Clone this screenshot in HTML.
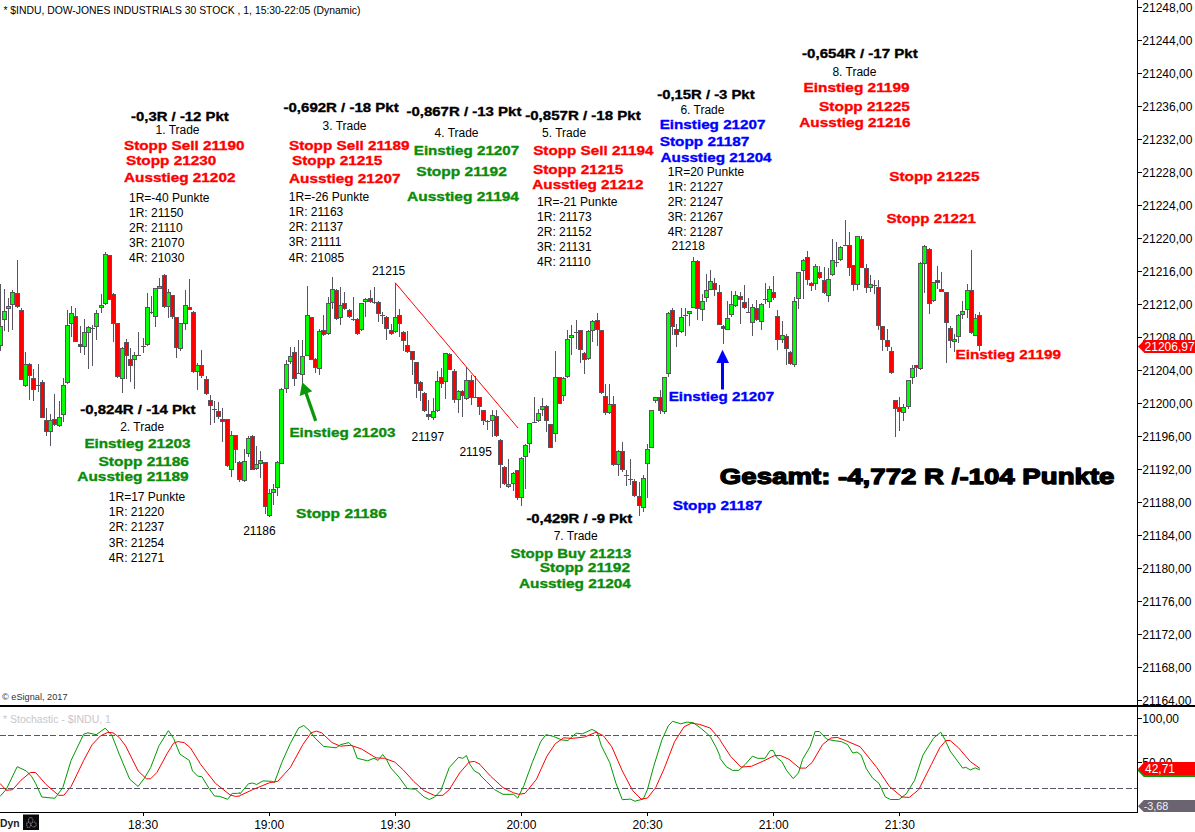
<!DOCTYPE html><html><head><meta charset="utf-8"><title>$INDU Chart</title>
<style>html,body{margin:0;padding:0;background:#fff;}svg{display:block}text{font-family:"Liberation Sans", Arial, sans-serif;}.n{font-size:12px;fill:#000}.b{font-size:13.4px;font-weight:bold;stroke-width:.35px;stroke-linejoin:round}.k{fill:#000;stroke:#000}.r{fill:#f00;stroke:#f00}.g{fill:#0a8c0a;stroke:#0a8c0a}.u{fill:#00f;stroke:#00f}</style></head><body>
<svg width="1195" height="832" viewBox="0 0 1195 832">
<rect width="1195" height="832" fill="#fff"/>
<g shape-rendering="crispEdges">
<rect x="0" y="284" width="1" height="67" fill="#585560"/>
<rect x="-2" y="326" width="5" height="20" fill="#585560"/>
<rect x="-1" y="327" width="3" height="18" fill="#00ff00"/>
<rect x="4" y="289" width="1" height="42" fill="#585560"/>
<rect x="2" y="311" width="5" height="9" fill="#585560"/>
<rect x="3" y="312" width="3" height="7" fill="#00ff00"/>
<rect x="8" y="298" width="1" height="34" fill="#585560"/>
<rect x="6" y="306" width="5" height="3" fill="#585560"/>
<rect x="7" y="307" width="3" height="1" fill="#00ff00"/>
<rect x="12" y="290" width="1" height="40" fill="#585560"/>
<rect x="10" y="292" width="5" height="13" fill="#585560"/>
<rect x="11" y="293" width="3" height="11" fill="#00ff00"/>
<rect x="17" y="260" width="1" height="48" fill="#585560"/>
<rect x="15" y="293" width="5" height="14" fill="#585560"/>
<rect x="16" y="294" width="3" height="12" fill="#ff0000"/>
<rect x="21" y="308" width="1" height="72" fill="#585560"/>
<rect x="19" y="310" width="5" height="70" fill="#585560"/>
<rect x="20" y="311" width="3" height="68" fill="#ff0000"/>
<rect x="25" y="352" width="1" height="35" fill="#585560"/>
<rect x="23" y="364" width="5" height="22" fill="#585560"/>
<rect x="24" y="365" width="3" height="20" fill="#00ff00"/>
<rect x="29" y="363" width="1" height="37" fill="#585560"/>
<rect x="27" y="364" width="5" height="12" fill="#585560"/>
<rect x="28" y="365" width="3" height="10" fill="#ff0000"/>
<rect x="33" y="369" width="1" height="32" fill="#585560"/>
<rect x="31" y="378" width="5" height="12" fill="#585560"/>
<rect x="32" y="379" width="3" height="10" fill="#ff0000"/>
<rect x="38" y="364" width="1" height="28" fill="#585560"/>
<rect x="36" y="385" width="5" height="1" fill="#585560"/>
<rect x="42" y="380" width="1" height="38" fill="#585560"/>
<rect x="40" y="382" width="5" height="36" fill="#585560"/>
<rect x="41" y="383" width="3" height="34" fill="#ff0000"/>
<rect x="46" y="408" width="1" height="28" fill="#585560"/>
<rect x="44" y="420" width="5" height="12" fill="#585560"/>
<rect x="45" y="421" width="3" height="10" fill="#ff0000"/>
<rect x="50" y="414" width="1" height="32" fill="#585560"/>
<rect x="48" y="420" width="5" height="12" fill="#585560"/>
<rect x="49" y="421" width="3" height="10" fill="#00ff00"/>
<rect x="54" y="394" width="1" height="32" fill="#585560"/>
<rect x="52" y="419" width="5" height="6" fill="#585560"/>
<rect x="53" y="420" width="3" height="4" fill="#ff0000"/>
<rect x="59" y="401" width="1" height="26" fill="#585560"/>
<rect x="57" y="417" width="5" height="9" fill="#585560"/>
<rect x="58" y="418" width="3" height="7" fill="#00ff00"/>
<rect x="63" y="378" width="1" height="44" fill="#585560"/>
<rect x="61" y="385" width="5" height="30" fill="#585560"/>
<rect x="62" y="386" width="3" height="28" fill="#00ff00"/>
<rect x="67" y="310" width="1" height="74" fill="#585560"/>
<rect x="65" y="325" width="5" height="58" fill="#585560"/>
<rect x="66" y="326" width="3" height="56" fill="#00ff00"/>
<rect x="71" y="306" width="1" height="31" fill="#585560"/>
<rect x="69" y="313" width="5" height="11" fill="#585560"/>
<rect x="70" y="314" width="3" height="9" fill="#00ff00"/>
<rect x="75" y="308" width="1" height="34" fill="#585560"/>
<rect x="73" y="316" width="5" height="26" fill="#585560"/>
<rect x="74" y="317" width="3" height="24" fill="#ff0000"/>
<rect x="80" y="326" width="1" height="27" fill="#585560"/>
<rect x="78" y="344" width="5" height="3" fill="#585560"/>
<rect x="79" y="345" width="3" height="1" fill="#ff0000"/>
<rect x="84" y="319" width="1" height="36" fill="#585560"/>
<rect x="82" y="332" width="5" height="15" fill="#585560"/>
<rect x="83" y="333" width="3" height="13" fill="#00ff00"/>
<rect x="88" y="326" width="1" height="43" fill="#585560"/>
<rect x="86" y="327" width="5" height="6" fill="#585560"/>
<rect x="87" y="328" width="3" height="4" fill="#00ff00"/>
<rect x="92" y="325" width="1" height="41" fill="#585560"/>
<rect x="90" y="328" width="5" height="1" fill="#585560"/>
<rect x="96" y="310" width="1" height="30" fill="#585560"/>
<rect x="94" y="313" width="5" height="14" fill="#585560"/>
<rect x="95" y="314" width="3" height="12" fill="#00ff00"/>
<rect x="101" y="294" width="1" height="19" fill="#585560"/>
<rect x="99" y="305" width="5" height="3" fill="#585560"/>
<rect x="100" y="306" width="3" height="1" fill="#00ff00"/>
<rect x="105" y="252" width="1" height="53" fill="#585560"/>
<rect x="103" y="254" width="5" height="50" fill="#585560"/>
<rect x="104" y="255" width="3" height="48" fill="#00ff00"/>
<rect x="109" y="255" width="1" height="45" fill="#585560"/>
<rect x="107" y="255" width="5" height="45" fill="#585560"/>
<rect x="108" y="256" width="3" height="43" fill="#ff0000"/>
<rect x="113" y="293" width="1" height="49" fill="#585560"/>
<rect x="111" y="294" width="5" height="30" fill="#585560"/>
<rect x="112" y="295" width="3" height="28" fill="#ff0000"/>
<rect x="117" y="323" width="1" height="55" fill="#585560"/>
<rect x="115" y="323" width="5" height="54" fill="#585560"/>
<rect x="116" y="324" width="3" height="52" fill="#ff0000"/>
<rect x="122" y="347" width="1" height="46" fill="#585560"/>
<rect x="120" y="348" width="5" height="31" fill="#585560"/>
<rect x="121" y="349" width="3" height="29" fill="#00ff00"/>
<rect x="126" y="339" width="1" height="40" fill="#585560"/>
<rect x="124" y="342" width="5" height="14" fill="#585560"/>
<rect x="125" y="343" width="3" height="12" fill="#ff0000"/>
<rect x="130" y="348" width="1" height="34" fill="#585560"/>
<rect x="128" y="359" width="5" height="7" fill="#585560"/>
<rect x="129" y="360" width="3" height="5" fill="#ff0000"/>
<rect x="134" y="352" width="1" height="37" fill="#585560"/>
<rect x="132" y="355" width="5" height="5" fill="#585560"/>
<rect x="133" y="356" width="3" height="3" fill="#00ff00"/>
<rect x="138" y="332" width="1" height="24" fill="#585560"/>
<rect x="136" y="355" width="5" height="1" fill="#585560"/>
<rect x="143" y="338" width="1" height="15" fill="#585560"/>
<rect x="141" y="346" width="5" height="1" fill="#585560"/>
<rect x="147" y="293" width="1" height="53" fill="#585560"/>
<rect x="145" y="307" width="5" height="38" fill="#585560"/>
<rect x="146" y="308" width="3" height="36" fill="#00ff00"/>
<rect x="151" y="296" width="1" height="18" fill="#585560"/>
<rect x="149" y="312" width="5" height="1" fill="#585560"/>
<rect x="155" y="288" width="1" height="39" fill="#585560"/>
<rect x="153" y="288" width="5" height="29" fill="#585560"/>
<rect x="154" y="289" width="3" height="27" fill="#00ff00"/>
<rect x="159" y="278" width="1" height="11" fill="#585560"/>
<rect x="157" y="286" width="5" height="3" fill="#585560"/>
<rect x="158" y="287" width="3" height="1" fill="#00ff00"/>
<rect x="164" y="274" width="1" height="34" fill="#585560"/>
<rect x="162" y="275" width="5" height="32" fill="#585560"/>
<rect x="163" y="276" width="3" height="30" fill="#ff0000"/>
<rect x="168" y="289" width="1" height="29" fill="#585560"/>
<rect x="166" y="292" width="5" height="15" fill="#585560"/>
<rect x="167" y="293" width="3" height="13" fill="#00ff00"/>
<rect x="172" y="295" width="1" height="24" fill="#585560"/>
<rect x="170" y="295" width="5" height="22" fill="#585560"/>
<rect x="171" y="296" width="3" height="20" fill="#ff0000"/>
<rect x="176" y="317" width="1" height="41" fill="#585560"/>
<rect x="174" y="317" width="5" height="31" fill="#585560"/>
<rect x="175" y="318" width="3" height="29" fill="#ff0000"/>
<rect x="180" y="323" width="1" height="28" fill="#585560"/>
<rect x="178" y="323" width="5" height="26" fill="#585560"/>
<rect x="179" y="324" width="3" height="24" fill="#00ff00"/>
<rect x="185" y="290" width="1" height="40" fill="#585560"/>
<rect x="183" y="305" width="5" height="19" fill="#585560"/>
<rect x="184" y="306" width="3" height="17" fill="#00ff00"/>
<rect x="189" y="279" width="1" height="31" fill="#585560"/>
<rect x="187" y="307" width="5" height="3" fill="#585560"/>
<rect x="188" y="308" width="3" height="1" fill="#ff0000"/>
<rect x="193" y="311" width="1" height="62" fill="#585560"/>
<rect x="191" y="312" width="5" height="60" fill="#585560"/>
<rect x="192" y="313" width="3" height="58" fill="#ff0000"/>
<rect x="197" y="363" width="1" height="27" fill="#585560"/>
<rect x="195" y="365" width="5" height="7" fill="#585560"/>
<rect x="196" y="366" width="3" height="5" fill="#00ff00"/>
<rect x="201" y="350" width="1" height="28" fill="#585560"/>
<rect x="199" y="365" width="5" height="11" fill="#585560"/>
<rect x="200" y="366" width="3" height="9" fill="#ff0000"/>
<rect x="206" y="376" width="1" height="19" fill="#585560"/>
<rect x="204" y="379" width="5" height="15" fill="#585560"/>
<rect x="205" y="380" width="3" height="13" fill="#ff0000"/>
<rect x="210" y="395" width="1" height="30" fill="#585560"/>
<rect x="208" y="400" width="5" height="6" fill="#585560"/>
<rect x="209" y="401" width="3" height="4" fill="#ff0000"/>
<rect x="214" y="401" width="1" height="22" fill="#585560"/>
<rect x="212" y="409" width="5" height="1" fill="#585560"/>
<rect x="218" y="402" width="1" height="17" fill="#585560"/>
<rect x="216" y="411" width="5" height="6" fill="#585560"/>
<rect x="217" y="412" width="3" height="4" fill="#ff0000"/>
<rect x="222" y="408" width="1" height="34" fill="#585560"/>
<rect x="220" y="419" width="5" height="3" fill="#585560"/>
<rect x="221" y="420" width="3" height="1" fill="#ff0000"/>
<rect x="227" y="419" width="1" height="48" fill="#585560"/>
<rect x="225" y="419" width="5" height="47" fill="#585560"/>
<rect x="226" y="420" width="3" height="45" fill="#ff0000"/>
<rect x="231" y="431" width="1" height="46" fill="#585560"/>
<rect x="229" y="435" width="5" height="35" fill="#585560"/>
<rect x="230" y="436" width="3" height="33" fill="#00ff00"/>
<rect x="235" y="435" width="1" height="28" fill="#585560"/>
<rect x="233" y="435" width="5" height="15" fill="#585560"/>
<rect x="234" y="436" width="3" height="13" fill="#ff0000"/>
<rect x="239" y="461" width="1" height="21" fill="#585560"/>
<rect x="237" y="462" width="5" height="18" fill="#585560"/>
<rect x="238" y="463" width="3" height="16" fill="#ff0000"/>
<rect x="244" y="449" width="1" height="33" fill="#585560"/>
<rect x="242" y="461" width="5" height="20" fill="#585560"/>
<rect x="243" y="462" width="3" height="18" fill="#00ff00"/>
<rect x="248" y="436" width="1" height="21" fill="#585560"/>
<rect x="246" y="438" width="5" height="16" fill="#585560"/>
<rect x="247" y="439" width="3" height="14" fill="#00ff00"/>
<rect x="252" y="435" width="1" height="35" fill="#585560"/>
<rect x="250" y="436" width="5" height="34" fill="#585560"/>
<rect x="251" y="437" width="3" height="32" fill="#ff0000"/>
<rect x="256" y="446" width="1" height="24" fill="#585560"/>
<rect x="254" y="464" width="5" height="5" fill="#585560"/>
<rect x="255" y="465" width="3" height="3" fill="#00ff00"/>
<rect x="260" y="451" width="1" height="27" fill="#585560"/>
<rect x="258" y="460" width="5" height="4" fill="#585560"/>
<rect x="259" y="461" width="3" height="2" fill="#00ff00"/>
<rect x="265" y="462" width="1" height="52" fill="#585560"/>
<rect x="263" y="462" width="5" height="45" fill="#585560"/>
<rect x="264" y="463" width="3" height="43" fill="#ff0000"/>
<rect x="269" y="489" width="1" height="28" fill="#585560"/>
<rect x="267" y="493" width="5" height="23" fill="#585560"/>
<rect x="268" y="494" width="3" height="21" fill="#00ff00"/>
<rect x="273" y="484" width="1" height="21" fill="#585560"/>
<rect x="271" y="489" width="5" height="4" fill="#585560"/>
<rect x="272" y="490" width="3" height="2" fill="#00ff00"/>
<rect x="277" y="461" width="1" height="35" fill="#585560"/>
<rect x="275" y="462" width="5" height="26" fill="#585560"/>
<rect x="276" y="463" width="3" height="24" fill="#00ff00"/>
<rect x="281" y="388" width="1" height="76" fill="#585560"/>
<rect x="279" y="389" width="5" height="75" fill="#585560"/>
<rect x="280" y="390" width="3" height="73" fill="#00ff00"/>
<rect x="286" y="360" width="1" height="33" fill="#585560"/>
<rect x="284" y="364" width="5" height="25" fill="#585560"/>
<rect x="285" y="365" width="3" height="23" fill="#00ff00"/>
<rect x="290" y="347" width="1" height="17" fill="#585560"/>
<rect x="288" y="356" width="5" height="6" fill="#585560"/>
<rect x="289" y="357" width="3" height="4" fill="#00ff00"/>
<rect x="294" y="347" width="1" height="39" fill="#585560"/>
<rect x="292" y="352" width="5" height="27" fill="#585560"/>
<rect x="293" y="353" width="3" height="25" fill="#ff0000"/>
<rect x="298" y="340" width="1" height="34" fill="#585560"/>
<rect x="296" y="373" width="5" height="1" fill="#585560"/>
<rect x="302" y="340" width="1" height="45" fill="#585560"/>
<rect x="300" y="356" width="5" height="19" fill="#585560"/>
<rect x="301" y="357" width="3" height="17" fill="#00ff00"/>
<rect x="307" y="286" width="1" height="70" fill="#585560"/>
<rect x="305" y="315" width="5" height="41" fill="#585560"/>
<rect x="306" y="316" width="3" height="39" fill="#00ff00"/>
<rect x="311" y="317" width="1" height="43" fill="#585560"/>
<rect x="309" y="317" width="5" height="43" fill="#585560"/>
<rect x="310" y="318" width="3" height="41" fill="#ff0000"/>
<rect x="315" y="358" width="1" height="15" fill="#585560"/>
<rect x="313" y="359" width="5" height="9" fill="#585560"/>
<rect x="314" y="360" width="3" height="7" fill="#ff0000"/>
<rect x="319" y="329" width="1" height="46" fill="#585560"/>
<rect x="317" y="331" width="5" height="38" fill="#585560"/>
<rect x="318" y="332" width="3" height="36" fill="#00ff00"/>
<rect x="323" y="315" width="1" height="21" fill="#585560"/>
<rect x="321" y="330" width="5" height="5" fill="#585560"/>
<rect x="322" y="331" width="3" height="3" fill="#ff0000"/>
<rect x="328" y="297" width="1" height="38" fill="#585560"/>
<rect x="326" y="303" width="5" height="31" fill="#585560"/>
<rect x="327" y="304" width="3" height="29" fill="#00ff00"/>
<rect x="332" y="277" width="1" height="32" fill="#585560"/>
<rect x="330" y="289" width="5" height="14" fill="#585560"/>
<rect x="331" y="290" width="3" height="12" fill="#00ff00"/>
<rect x="336" y="289" width="1" height="31" fill="#585560"/>
<rect x="334" y="290" width="5" height="29" fill="#585560"/>
<rect x="335" y="291" width="3" height="27" fill="#ff0000"/>
<rect x="340" y="287" width="1" height="38" fill="#585560"/>
<rect x="338" y="305" width="5" height="13" fill="#585560"/>
<rect x="339" y="306" width="3" height="11" fill="#00ff00"/>
<rect x="344" y="292" width="1" height="18" fill="#585560"/>
<rect x="342" y="303" width="5" height="6" fill="#585560"/>
<rect x="343" y="304" width="3" height="4" fill="#ff0000"/>
<rect x="349" y="309" width="1" height="9" fill="#585560"/>
<rect x="347" y="310" width="5" height="7" fill="#585560"/>
<rect x="348" y="311" width="3" height="5" fill="#ff0000"/>
<rect x="353" y="297" width="1" height="24" fill="#585560"/>
<rect x="351" y="319" width="5" height="1" fill="#585560"/>
<rect x="357" y="318" width="1" height="17" fill="#585560"/>
<rect x="355" y="319" width="5" height="15" fill="#585560"/>
<rect x="356" y="320" width="3" height="13" fill="#ff0000"/>
<rect x="361" y="303" width="1" height="28" fill="#585560"/>
<rect x="359" y="303" width="5" height="27" fill="#585560"/>
<rect x="360" y="304" width="3" height="25" fill="#00ff00"/>
<rect x="365" y="298" width="1" height="19" fill="#585560"/>
<rect x="363" y="299" width="5" height="3" fill="#585560"/>
<rect x="364" y="300" width="3" height="1" fill="#00ff00"/>
<rect x="370" y="290" width="1" height="13" fill="#585560"/>
<rect x="368" y="298" width="5" height="4" fill="#585560"/>
<rect x="369" y="299" width="3" height="2" fill="#ff0000"/>
<rect x="374" y="287" width="1" height="17" fill="#585560"/>
<rect x="372" y="302" width="5" height="1" fill="#585560"/>
<rect x="378" y="301" width="1" height="21" fill="#585560"/>
<rect x="376" y="302" width="5" height="12" fill="#585560"/>
<rect x="377" y="303" width="3" height="10" fill="#ff0000"/>
<rect x="382" y="312" width="1" height="12" fill="#585560"/>
<rect x="380" y="315" width="5" height="1" fill="#585560"/>
<rect x="386" y="316" width="1" height="24" fill="#585560"/>
<rect x="384" y="317" width="5" height="12" fill="#585560"/>
<rect x="385" y="318" width="3" height="10" fill="#ff0000"/>
<rect x="391" y="324" width="1" height="11" fill="#585560"/>
<rect x="389" y="330" width="5" height="4" fill="#585560"/>
<rect x="390" y="331" width="3" height="2" fill="#ff0000"/>
<rect x="395" y="283" width="1" height="50" fill="#585560"/>
<rect x="393" y="317" width="5" height="15" fill="#585560"/>
<rect x="394" y="318" width="3" height="13" fill="#00ff00"/>
<rect x="399" y="309" width="1" height="28" fill="#585560"/>
<rect x="397" y="315" width="5" height="9" fill="#585560"/>
<rect x="398" y="316" width="3" height="7" fill="#ff0000"/>
<rect x="403" y="331" width="1" height="20" fill="#585560"/>
<rect x="401" y="332" width="5" height="9" fill="#585560"/>
<rect x="402" y="333" width="3" height="7" fill="#ff0000"/>
<rect x="407" y="331" width="1" height="22" fill="#585560"/>
<rect x="405" y="345" width="5" height="7" fill="#585560"/>
<rect x="406" y="346" width="3" height="5" fill="#ff0000"/>
<rect x="412" y="351" width="1" height="24" fill="#585560"/>
<rect x="410" y="351" width="5" height="9" fill="#585560"/>
<rect x="411" y="352" width="3" height="7" fill="#ff0000"/>
<rect x="416" y="362" width="1" height="36" fill="#585560"/>
<rect x="414" y="362" width="5" height="22" fill="#585560"/>
<rect x="415" y="363" width="3" height="20" fill="#ff0000"/>
<rect x="420" y="381" width="1" height="20" fill="#585560"/>
<rect x="418" y="382" width="5" height="9" fill="#585560"/>
<rect x="419" y="383" width="3" height="7" fill="#ff0000"/>
<rect x="424" y="392" width="1" height="20" fill="#585560"/>
<rect x="422" y="393" width="5" height="18" fill="#585560"/>
<rect x="423" y="394" width="3" height="16" fill="#ff0000"/>
<rect x="428" y="400" width="1" height="20" fill="#585560"/>
<rect x="426" y="414" width="5" height="3" fill="#585560"/>
<rect x="427" y="415" width="3" height="1" fill="#ff0000"/>
<rect x="433" y="398" width="1" height="22" fill="#585560"/>
<rect x="431" y="411" width="5" height="7" fill="#585560"/>
<rect x="432" y="412" width="3" height="5" fill="#00ff00"/>
<rect x="437" y="371" width="1" height="41" fill="#585560"/>
<rect x="435" y="381" width="5" height="30" fill="#585560"/>
<rect x="436" y="382" width="3" height="28" fill="#00ff00"/>
<rect x="441" y="368" width="1" height="20" fill="#585560"/>
<rect x="439" y="377" width="5" height="7" fill="#585560"/>
<rect x="440" y="378" width="3" height="5" fill="#ff0000"/>
<rect x="445" y="353" width="1" height="46" fill="#585560"/>
<rect x="443" y="353" width="5" height="29" fill="#585560"/>
<rect x="444" y="354" width="3" height="27" fill="#00ff00"/>
<rect x="449" y="353" width="1" height="17" fill="#585560"/>
<rect x="447" y="354" width="5" height="16" fill="#585560"/>
<rect x="448" y="355" width="3" height="14" fill="#ff0000"/>
<rect x="454" y="369" width="1" height="34" fill="#585560"/>
<rect x="452" y="371" width="5" height="29" fill="#585560"/>
<rect x="453" y="372" width="3" height="27" fill="#ff0000"/>
<rect x="458" y="390" width="1" height="23" fill="#585560"/>
<rect x="456" y="391" width="5" height="9" fill="#585560"/>
<rect x="457" y="392" width="3" height="7" fill="#00ff00"/>
<rect x="462" y="390" width="1" height="27" fill="#585560"/>
<rect x="460" y="391" width="5" height="5" fill="#585560"/>
<rect x="461" y="392" width="3" height="3" fill="#ff0000"/>
<rect x="466" y="367" width="1" height="33" fill="#585560"/>
<rect x="464" y="380" width="5" height="19" fill="#585560"/>
<rect x="465" y="381" width="3" height="17" fill="#00ff00"/>
<rect x="471" y="375" width="1" height="30" fill="#585560"/>
<rect x="469" y="380" width="5" height="18" fill="#585560"/>
<rect x="470" y="381" width="3" height="16" fill="#ff0000"/>
<rect x="475" y="376" width="1" height="22" fill="#585560"/>
<rect x="473" y="397" width="5" height="1" fill="#585560"/>
<rect x="479" y="397" width="1" height="18" fill="#585560"/>
<rect x="477" y="397" width="5" height="10" fill="#585560"/>
<rect x="478" y="398" width="3" height="8" fill="#ff0000"/>
<rect x="483" y="410" width="1" height="15" fill="#585560"/>
<rect x="481" y="410" width="5" height="11" fill="#585560"/>
<rect x="482" y="411" width="3" height="9" fill="#ff0000"/>
<rect x="487" y="420" width="1" height="10" fill="#585560"/>
<rect x="485" y="421" width="5" height="1" fill="#585560"/>
<rect x="492" y="410" width="1" height="27" fill="#585560"/>
<rect x="490" y="415" width="5" height="6" fill="#585560"/>
<rect x="491" y="416" width="3" height="4" fill="#00ff00"/>
<rect x="496" y="410" width="1" height="27" fill="#585560"/>
<rect x="494" y="416" width="5" height="20" fill="#585560"/>
<rect x="495" y="417" width="3" height="18" fill="#ff0000"/>
<rect x="500" y="439" width="1" height="49" fill="#585560"/>
<rect x="498" y="440" width="5" height="25" fill="#585560"/>
<rect x="499" y="441" width="3" height="23" fill="#ff0000"/>
<rect x="504" y="466" width="1" height="19" fill="#585560"/>
<rect x="502" y="467" width="5" height="17" fill="#585560"/>
<rect x="503" y="468" width="3" height="15" fill="#ff0000"/>
<rect x="508" y="459" width="1" height="29" fill="#585560"/>
<rect x="506" y="484" width="5" height="3" fill="#585560"/>
<rect x="507" y="485" width="3" height="1" fill="#00ff00"/>
<rect x="513" y="472" width="1" height="19" fill="#585560"/>
<rect x="511" y="473" width="5" height="11" fill="#585560"/>
<rect x="512" y="474" width="3" height="9" fill="#00ff00"/>
<rect x="517" y="470" width="1" height="30" fill="#585560"/>
<rect x="515" y="470" width="5" height="28" fill="#585560"/>
<rect x="516" y="471" width="3" height="26" fill="#ff0000"/>
<rect x="521" y="457" width="1" height="49" fill="#585560"/>
<rect x="519" y="458" width="5" height="40" fill="#585560"/>
<rect x="520" y="459" width="3" height="38" fill="#00ff00"/>
<rect x="525" y="444" width="1" height="45" fill="#585560"/>
<rect x="523" y="445" width="5" height="12" fill="#585560"/>
<rect x="524" y="446" width="3" height="10" fill="#00ff00"/>
<rect x="529" y="423" width="1" height="30" fill="#585560"/>
<rect x="527" y="423" width="5" height="21" fill="#585560"/>
<rect x="528" y="424" width="3" height="19" fill="#00ff00"/>
<rect x="534" y="397" width="1" height="26" fill="#585560"/>
<rect x="532" y="422" width="5" height="1" fill="#585560"/>
<rect x="538" y="409" width="1" height="13" fill="#585560"/>
<rect x="536" y="413" width="5" height="8" fill="#585560"/>
<rect x="537" y="414" width="3" height="6" fill="#00ff00"/>
<rect x="542" y="398" width="1" height="18" fill="#585560"/>
<rect x="540" y="406" width="5" height="4" fill="#585560"/>
<rect x="541" y="407" width="3" height="2" fill="#00ff00"/>
<rect x="546" y="405" width="1" height="27" fill="#585560"/>
<rect x="544" y="406" width="5" height="15" fill="#585560"/>
<rect x="545" y="407" width="3" height="13" fill="#ff0000"/>
<rect x="550" y="424" width="1" height="24" fill="#585560"/>
<rect x="548" y="424" width="5" height="24" fill="#585560"/>
<rect x="549" y="425" width="3" height="22" fill="#ff0000"/>
<rect x="555" y="351" width="1" height="91" fill="#585560"/>
<rect x="553" y="377" width="5" height="57" fill="#585560"/>
<rect x="554" y="378" width="3" height="55" fill="#00ff00"/>
<rect x="559" y="377" width="1" height="27" fill="#585560"/>
<rect x="557" y="377" width="5" height="27" fill="#585560"/>
<rect x="558" y="378" width="3" height="25" fill="#ff0000"/>
<rect x="563" y="377" width="1" height="24" fill="#585560"/>
<rect x="561" y="378" width="5" height="18" fill="#585560"/>
<rect x="562" y="379" width="3" height="16" fill="#00ff00"/>
<rect x="567" y="330" width="1" height="48" fill="#585560"/>
<rect x="565" y="339" width="5" height="38" fill="#585560"/>
<rect x="566" y="340" width="3" height="36" fill="#00ff00"/>
<rect x="571" y="325" width="1" height="30" fill="#585560"/>
<rect x="569" y="335" width="5" height="3" fill="#585560"/>
<rect x="570" y="336" width="3" height="1" fill="#00ff00"/>
<rect x="576" y="320" width="1" height="29" fill="#585560"/>
<rect x="574" y="332" width="5" height="1" fill="#585560"/>
<rect x="580" y="330" width="1" height="33" fill="#585560"/>
<rect x="578" y="330" width="5" height="20" fill="#585560"/>
<rect x="579" y="331" width="3" height="18" fill="#ff0000"/>
<rect x="584" y="352" width="1" height="22" fill="#585560"/>
<rect x="582" y="353" width="5" height="7" fill="#585560"/>
<rect x="583" y="354" width="3" height="5" fill="#ff0000"/>
<rect x="588" y="330" width="1" height="30" fill="#585560"/>
<rect x="586" y="331" width="5" height="28" fill="#585560"/>
<rect x="587" y="332" width="3" height="26" fill="#00ff00"/>
<rect x="592" y="320" width="1" height="22" fill="#585560"/>
<rect x="590" y="321" width="5" height="10" fill="#585560"/>
<rect x="591" y="322" width="3" height="8" fill="#00ff00"/>
<rect x="597" y="313" width="1" height="33" fill="#585560"/>
<rect x="595" y="320" width="5" height="10" fill="#585560"/>
<rect x="596" y="321" width="3" height="8" fill="#ff0000"/>
<rect x="601" y="330" width="1" height="64" fill="#585560"/>
<rect x="599" y="330" width="5" height="63" fill="#585560"/>
<rect x="600" y="331" width="3" height="61" fill="#ff0000"/>
<rect x="605" y="384" width="1" height="31" fill="#585560"/>
<rect x="603" y="396" width="5" height="17" fill="#585560"/>
<rect x="604" y="397" width="3" height="15" fill="#ff0000"/>
<rect x="609" y="384" width="1" height="30" fill="#585560"/>
<rect x="607" y="404" width="5" height="9" fill="#585560"/>
<rect x="608" y="405" width="3" height="7" fill="#00ff00"/>
<rect x="613" y="396" width="1" height="70" fill="#585560"/>
<rect x="611" y="404" width="5" height="61" fill="#585560"/>
<rect x="612" y="405" width="3" height="59" fill="#ff0000"/>
<rect x="618" y="450" width="1" height="26" fill="#585560"/>
<rect x="616" y="451" width="5" height="14" fill="#585560"/>
<rect x="617" y="452" width="3" height="12" fill="#00ff00"/>
<rect x="622" y="442" width="1" height="30" fill="#585560"/>
<rect x="620" y="451" width="5" height="19" fill="#585560"/>
<rect x="621" y="452" width="3" height="17" fill="#ff0000"/>
<rect x="626" y="470" width="1" height="16" fill="#585560"/>
<rect x="624" y="475" width="5" height="1" fill="#585560"/>
<rect x="630" y="459" width="1" height="26" fill="#585560"/>
<rect x="628" y="479" width="5" height="1" fill="#585560"/>
<rect x="634" y="479" width="1" height="18" fill="#585560"/>
<rect x="632" y="481" width="5" height="15" fill="#585560"/>
<rect x="633" y="482" width="3" height="13" fill="#ff0000"/>
<rect x="639" y="482" width="1" height="34" fill="#585560"/>
<rect x="637" y="496" width="5" height="10" fill="#585560"/>
<rect x="638" y="497" width="3" height="8" fill="#ff0000"/>
<rect x="643" y="475" width="1" height="37" fill="#585560"/>
<rect x="641" y="478" width="5" height="30" fill="#585560"/>
<rect x="642" y="479" width="3" height="28" fill="#00ff00"/>
<rect x="647" y="444" width="1" height="54" fill="#585560"/>
<rect x="645" y="449" width="5" height="15" fill="#585560"/>
<rect x="646" y="450" width="3" height="13" fill="#00ff00"/>
<rect x="651" y="410" width="1" height="38" fill="#585560"/>
<rect x="649" y="410" width="5" height="38" fill="#585560"/>
<rect x="650" y="411" width="3" height="36" fill="#00ff00"/>
<rect x="655" y="397" width="1" height="6" fill="#585560"/>
<rect x="653" y="397" width="5" height="4" fill="#585560"/>
<rect x="654" y="398" width="3" height="2" fill="#00ff00"/>
<rect x="660" y="390" width="1" height="24" fill="#585560"/>
<rect x="658" y="397" width="5" height="14" fill="#585560"/>
<rect x="659" y="398" width="3" height="12" fill="#ff0000"/>
<rect x="664" y="377" width="1" height="37" fill="#585560"/>
<rect x="662" y="377" width="5" height="35" fill="#585560"/>
<rect x="663" y="378" width="3" height="33" fill="#00ff00"/>
<rect x="668" y="312" width="1" height="65" fill="#585560"/>
<rect x="666" y="313" width="5" height="61" fill="#585560"/>
<rect x="667" y="314" width="3" height="59" fill="#00ff00"/>
<rect x="672" y="308" width="1" height="27" fill="#585560"/>
<rect x="670" y="310" width="5" height="17" fill="#585560"/>
<rect x="671" y="311" width="3" height="15" fill="#ff0000"/>
<rect x="676" y="324" width="1" height="23" fill="#585560"/>
<rect x="674" y="329" width="5" height="6" fill="#585560"/>
<rect x="675" y="330" width="3" height="4" fill="#ff0000"/>
<rect x="681" y="308" width="1" height="25" fill="#585560"/>
<rect x="679" y="317" width="5" height="15" fill="#585560"/>
<rect x="680" y="318" width="3" height="13" fill="#00ff00"/>
<rect x="685" y="308" width="1" height="28" fill="#585560"/>
<rect x="683" y="315" width="5" height="1" fill="#585560"/>
<rect x="689" y="311" width="1" height="15" fill="#585560"/>
<rect x="687" y="311" width="5" height="3" fill="#585560"/>
<rect x="688" y="312" width="3" height="1" fill="#00ff00"/>
<rect x="693" y="257" width="1" height="51" fill="#585560"/>
<rect x="691" y="261" width="5" height="47" fill="#585560"/>
<rect x="692" y="262" width="3" height="45" fill="#00ff00"/>
<rect x="697" y="260" width="1" height="60" fill="#585560"/>
<rect x="695" y="261" width="5" height="48" fill="#585560"/>
<rect x="696" y="262" width="3" height="46" fill="#ff0000"/>
<rect x="702" y="294" width="1" height="27" fill="#585560"/>
<rect x="700" y="301" width="5" height="9" fill="#585560"/>
<rect x="701" y="302" width="3" height="7" fill="#00ff00"/>
<rect x="706" y="274" width="1" height="28" fill="#585560"/>
<rect x="704" y="290" width="5" height="8" fill="#585560"/>
<rect x="705" y="291" width="3" height="6" fill="#00ff00"/>
<rect x="710" y="270" width="1" height="20" fill="#585560"/>
<rect x="708" y="281" width="5" height="9" fill="#585560"/>
<rect x="709" y="282" width="3" height="7" fill="#00ff00"/>
<rect x="714" y="278" width="1" height="18" fill="#585560"/>
<rect x="712" y="283" width="5" height="7" fill="#585560"/>
<rect x="713" y="284" width="3" height="5" fill="#ff0000"/>
<rect x="719" y="285" width="1" height="40" fill="#585560"/>
<rect x="717" y="292" width="5" height="33" fill="#585560"/>
<rect x="718" y="293" width="3" height="31" fill="#ff0000"/>
<rect x="723" y="325" width="1" height="19" fill="#585560"/>
<rect x="721" y="326" width="5" height="3" fill="#585560"/>
<rect x="722" y="327" width="3" height="1" fill="#ff0000"/>
<rect x="727" y="301" width="1" height="29" fill="#585560"/>
<rect x="725" y="318" width="5" height="12" fill="#585560"/>
<rect x="726" y="319" width="3" height="10" fill="#00ff00"/>
<rect x="731" y="291" width="1" height="26" fill="#585560"/>
<rect x="729" y="304" width="5" height="11" fill="#585560"/>
<rect x="730" y="305" width="3" height="9" fill="#00ff00"/>
<rect x="735" y="291" width="1" height="16" fill="#585560"/>
<rect x="733" y="295" width="5" height="11" fill="#585560"/>
<rect x="734" y="296" width="3" height="9" fill="#00ff00"/>
<rect x="740" y="292" width="1" height="32" fill="#585560"/>
<rect x="738" y="296" width="5" height="4" fill="#585560"/>
<rect x="739" y="297" width="3" height="2" fill="#ff0000"/>
<rect x="744" y="285" width="1" height="24" fill="#585560"/>
<rect x="742" y="302" width="5" height="6" fill="#585560"/>
<rect x="743" y="303" width="3" height="4" fill="#ff0000"/>
<rect x="748" y="298" width="1" height="15" fill="#585560"/>
<rect x="746" y="312" width="5" height="1" fill="#585560"/>
<rect x="752" y="304" width="1" height="32" fill="#585560"/>
<rect x="750" y="307" width="5" height="16" fill="#585560"/>
<rect x="751" y="308" width="3" height="14" fill="#00ff00"/>
<rect x="756" y="300" width="1" height="21" fill="#585560"/>
<rect x="754" y="308" width="5" height="12" fill="#585560"/>
<rect x="755" y="309" width="3" height="10" fill="#ff0000"/>
<rect x="761" y="303" width="1" height="27" fill="#585560"/>
<rect x="759" y="304" width="5" height="18" fill="#585560"/>
<rect x="760" y="305" width="3" height="16" fill="#00ff00"/>
<rect x="765" y="283" width="1" height="21" fill="#585560"/>
<rect x="763" y="299" width="5" height="1" fill="#585560"/>
<rect x="769" y="286" width="1" height="22" fill="#585560"/>
<rect x="767" y="289" width="5" height="13" fill="#585560"/>
<rect x="768" y="290" width="3" height="11" fill="#00ff00"/>
<rect x="773" y="276" width="1" height="24" fill="#585560"/>
<rect x="771" y="292" width="5" height="6" fill="#585560"/>
<rect x="772" y="293" width="3" height="4" fill="#ff0000"/>
<rect x="777" y="310" width="1" height="40" fill="#585560"/>
<rect x="775" y="316" width="5" height="24" fill="#585560"/>
<rect x="776" y="317" width="3" height="22" fill="#ff0000"/>
<rect x="782" y="321" width="1" height="22" fill="#585560"/>
<rect x="780" y="335" width="5" height="5" fill="#585560"/>
<rect x="781" y="336" width="3" height="3" fill="#00ff00"/>
<rect x="786" y="334" width="1" height="31" fill="#585560"/>
<rect x="784" y="336" width="5" height="13" fill="#585560"/>
<rect x="785" y="337" width="3" height="11" fill="#ff0000"/>
<rect x="790" y="351" width="1" height="14" fill="#585560"/>
<rect x="788" y="352" width="5" height="12" fill="#585560"/>
<rect x="789" y="353" width="3" height="10" fill="#ff0000"/>
<rect x="794" y="297" width="1" height="70" fill="#585560"/>
<rect x="792" y="301" width="5" height="64" fill="#585560"/>
<rect x="793" y="302" width="3" height="62" fill="#00ff00"/>
<rect x="798" y="272" width="1" height="37" fill="#585560"/>
<rect x="796" y="272" width="5" height="27" fill="#585560"/>
<rect x="797" y="273" width="3" height="25" fill="#00ff00"/>
<rect x="803" y="259" width="1" height="40" fill="#585560"/>
<rect x="801" y="260" width="5" height="11" fill="#585560"/>
<rect x="802" y="261" width="3" height="9" fill="#00ff00"/>
<rect x="807" y="251" width="1" height="34" fill="#585560"/>
<rect x="805" y="257" width="5" height="23" fill="#585560"/>
<rect x="806" y="258" width="3" height="21" fill="#ff0000"/>
<rect x="811" y="282" width="1" height="9" fill="#585560"/>
<rect x="809" y="283" width="5" height="3" fill="#585560"/>
<rect x="810" y="284" width="3" height="1" fill="#ff0000"/>
<rect x="815" y="264" width="1" height="26" fill="#585560"/>
<rect x="813" y="266" width="5" height="18" fill="#585560"/>
<rect x="814" y="267" width="3" height="16" fill="#00ff00"/>
<rect x="819" y="266" width="1" height="13" fill="#585560"/>
<rect x="817" y="272" width="5" height="6" fill="#585560"/>
<rect x="818" y="273" width="3" height="4" fill="#ff0000"/>
<rect x="824" y="267" width="1" height="27" fill="#585560"/>
<rect x="822" y="280" width="5" height="13" fill="#585560"/>
<rect x="823" y="281" width="3" height="11" fill="#ff0000"/>
<rect x="828" y="268" width="1" height="34" fill="#585560"/>
<rect x="826" y="279" width="5" height="17" fill="#585560"/>
<rect x="827" y="280" width="3" height="15" fill="#00ff00"/>
<rect x="832" y="239" width="1" height="37" fill="#585560"/>
<rect x="830" y="260" width="5" height="15" fill="#585560"/>
<rect x="831" y="261" width="3" height="13" fill="#00ff00"/>
<rect x="836" y="242" width="1" height="25" fill="#585560"/>
<rect x="834" y="262" width="5" height="1" fill="#585560"/>
<rect x="840" y="246" width="1" height="15" fill="#585560"/>
<rect x="838" y="247" width="5" height="13" fill="#585560"/>
<rect x="839" y="248" width="3" height="11" fill="#00ff00"/>
<rect x="845" y="220" width="1" height="26" fill="#585560"/>
<rect x="843" y="245" width="5" height="1" fill="#585560"/>
<rect x="849" y="232" width="1" height="44" fill="#585560"/>
<rect x="847" y="245" width="5" height="23" fill="#585560"/>
<rect x="848" y="246" width="3" height="21" fill="#ff0000"/>
<rect x="853" y="265" width="1" height="26" fill="#585560"/>
<rect x="851" y="265" width="5" height="20" fill="#585560"/>
<rect x="852" y="266" width="3" height="18" fill="#ff0000"/>
<rect x="857" y="236" width="1" height="54" fill="#585560"/>
<rect x="855" y="236" width="5" height="49" fill="#585560"/>
<rect x="856" y="237" width="3" height="47" fill="#00ff00"/>
<rect x="861" y="236" width="1" height="32" fill="#585560"/>
<rect x="859" y="239" width="5" height="29" fill="#585560"/>
<rect x="860" y="240" width="3" height="27" fill="#ff0000"/>
<rect x="866" y="264" width="1" height="29" fill="#585560"/>
<rect x="864" y="268" width="5" height="20" fill="#585560"/>
<rect x="865" y="269" width="3" height="18" fill="#ff0000"/>
<rect x="870" y="275" width="1" height="17" fill="#585560"/>
<rect x="868" y="284" width="5" height="4" fill="#585560"/>
<rect x="869" y="285" width="3" height="2" fill="#00ff00"/>
<rect x="874" y="280" width="1" height="14" fill="#585560"/>
<rect x="872" y="285" width="5" height="1" fill="#585560"/>
<rect x="878" y="280" width="1" height="50" fill="#585560"/>
<rect x="876" y="287" width="5" height="39" fill="#585560"/>
<rect x="877" y="288" width="3" height="37" fill="#ff0000"/>
<rect x="882" y="326" width="1" height="25" fill="#585560"/>
<rect x="880" y="326" width="5" height="14" fill="#585560"/>
<rect x="881" y="327" width="3" height="12" fill="#ff0000"/>
<rect x="887" y="329" width="1" height="22" fill="#585560"/>
<rect x="885" y="340" width="5" height="7" fill="#585560"/>
<rect x="886" y="341" width="3" height="5" fill="#ff0000"/>
<rect x="891" y="347" width="1" height="27" fill="#585560"/>
<rect x="889" y="351" width="5" height="22" fill="#585560"/>
<rect x="890" y="352" width="3" height="20" fill="#ff0000"/>
<rect x="895" y="400" width="1" height="37" fill="#585560"/>
<rect x="893" y="400" width="5" height="9" fill="#585560"/>
<rect x="894" y="401" width="3" height="7" fill="#ff0000"/>
<rect x="899" y="397" width="1" height="34" fill="#585560"/>
<rect x="897" y="407" width="5" height="5" fill="#585560"/>
<rect x="898" y="408" width="3" height="3" fill="#ff0000"/>
<rect x="903" y="404" width="1" height="17" fill="#585560"/>
<rect x="901" y="407" width="5" height="6" fill="#585560"/>
<rect x="902" y="408" width="3" height="4" fill="#00ff00"/>
<rect x="908" y="380" width="1" height="29" fill="#585560"/>
<rect x="906" y="380" width="5" height="27" fill="#585560"/>
<rect x="907" y="381" width="3" height="25" fill="#00ff00"/>
<rect x="912" y="365" width="1" height="19" fill="#585560"/>
<rect x="910" y="368" width="5" height="10" fill="#585560"/>
<rect x="911" y="369" width="3" height="8" fill="#00ff00"/>
<rect x="916" y="365" width="1" height="12" fill="#585560"/>
<rect x="914" y="365" width="5" height="3" fill="#585560"/>
<rect x="915" y="366" width="3" height="1" fill="#ff0000"/>
<rect x="920" y="262" width="1" height="108" fill="#585560"/>
<rect x="918" y="263" width="5" height="106" fill="#585560"/>
<rect x="919" y="264" width="3" height="104" fill="#00ff00"/>
<rect x="924" y="245" width="1" height="48" fill="#585560"/>
<rect x="922" y="246" width="5" height="18" fill="#585560"/>
<rect x="923" y="247" width="3" height="16" fill="#00ff00"/>
<rect x="929" y="248" width="1" height="66" fill="#585560"/>
<rect x="927" y="249" width="5" height="55" fill="#585560"/>
<rect x="928" y="250" width="3" height="53" fill="#ff0000"/>
<rect x="933" y="282" width="1" height="20" fill="#585560"/>
<rect x="931" y="282" width="5" height="19" fill="#585560"/>
<rect x="932" y="283" width="3" height="17" fill="#00ff00"/>
<rect x="937" y="266" width="1" height="23" fill="#585560"/>
<rect x="935" y="280" width="5" height="3" fill="#585560"/>
<rect x="936" y="281" width="3" height="1" fill="#ff0000"/>
<rect x="941" y="272" width="1" height="20" fill="#585560"/>
<rect x="939" y="289" width="5" height="3" fill="#585560"/>
<rect x="940" y="290" width="3" height="1" fill="#ff0000"/>
<rect x="946" y="292" width="1" height="71" fill="#585560"/>
<rect x="944" y="292" width="5" height="31" fill="#585560"/>
<rect x="945" y="293" width="3" height="29" fill="#ff0000"/>
<rect x="950" y="326" width="1" height="22" fill="#585560"/>
<rect x="948" y="328" width="5" height="13" fill="#585560"/>
<rect x="949" y="329" width="3" height="11" fill="#ff0000"/>
<rect x="954" y="334" width="1" height="18" fill="#585560"/>
<rect x="952" y="339" width="5" height="3" fill="#585560"/>
<rect x="953" y="340" width="3" height="1" fill="#00ff00"/>
<rect x="958" y="314" width="1" height="29" fill="#585560"/>
<rect x="956" y="315" width="5" height="22" fill="#585560"/>
<rect x="957" y="316" width="3" height="20" fill="#00ff00"/>
<rect x="962" y="301" width="1" height="18" fill="#585560"/>
<rect x="960" y="311" width="5" height="4" fill="#585560"/>
<rect x="961" y="312" width="3" height="2" fill="#00ff00"/>
<rect x="967" y="284" width="1" height="34" fill="#585560"/>
<rect x="965" y="290" width="5" height="20" fill="#585560"/>
<rect x="966" y="291" width="3" height="18" fill="#00ff00"/>
<rect x="971" y="250" width="1" height="84" fill="#585560"/>
<rect x="969" y="290" width="5" height="43" fill="#585560"/>
<rect x="970" y="291" width="3" height="41" fill="#ff0000"/>
<rect x="975" y="314" width="1" height="22" fill="#585560"/>
<rect x="973" y="318" width="5" height="18" fill="#585560"/>
<rect x="974" y="319" width="3" height="16" fill="#00ff00"/>
<rect x="979" y="312" width="1" height="39" fill="#585560"/>
<rect x="977" y="315" width="5" height="31" fill="#585560"/>
<rect x="978" y="316" width="3" height="29" fill="#ff0000"/>
</g>
<line x1="395.2" y1="282.7" x2="518" y2="428" stroke="#f00" stroke-width="1"/>
<line x1="315.7" y1="420.9" x2="306" y2="393" stroke="#0a980a" stroke-width="3.2"/>
<polygon points="302.2,382.2 299.7,396 312.2,391.3" fill="#0a980a"/>
<rect x="721" y="360" width="3" height="29.5" fill="#00f"/>
<polygon points="722.5,349.8 716.3,363 729,363" fill="#00f"/>
<g shape-rendering="crispEdges">
<rect x="1137" y="0" width="1" height="813" fill="#000"/>
<rect x="0" y="705" width="1195" height="2" fill="#000"/>
<rect x="0" y="812" width="1138" height="1" fill="#000"/>
<rect x="1138" y="7" width="4" height="1" fill="#000"/>
<rect x="1138" y="40" width="4" height="1" fill="#000"/>
<rect x="1138" y="73" width="4" height="1" fill="#000"/>
<rect x="1138" y="106" width="4" height="1" fill="#000"/>
<rect x="1138" y="139" width="4" height="1" fill="#000"/>
<rect x="1138" y="172" width="4" height="1" fill="#000"/>
<rect x="1138" y="205" width="4" height="1" fill="#000"/>
<rect x="1138" y="238" width="4" height="1" fill="#000"/>
<rect x="1138" y="271" width="4" height="1" fill="#000"/>
<rect x="1138" y="304" width="4" height="1" fill="#000"/>
<rect x="1138" y="337" width="4" height="1" fill="#000"/>
<rect x="1138" y="370" width="4" height="1" fill="#000"/>
<rect x="1138" y="403" width="4" height="1" fill="#000"/>
<rect x="1138" y="436" width="4" height="1" fill="#000"/>
<rect x="1138" y="469" width="4" height="1" fill="#000"/>
<rect x="1138" y="502" width="4" height="1" fill="#000"/>
<rect x="1138" y="535" width="4" height="1" fill="#000"/>
<rect x="1138" y="568" width="4" height="1" fill="#000"/>
<rect x="1138" y="601" width="4" height="1" fill="#000"/>
<rect x="1138" y="634" width="4" height="1" fill="#000"/>
<rect x="1138" y="667" width="4" height="1" fill="#000"/>
<rect x="1138" y="700" width="4" height="1" fill="#000"/>
<rect x="1138" y="718" width="4" height="1" fill="#000"/>
<rect x="1138" y="762" width="4" height="1" fill="#000"/>
<rect x="143" y="813" width="1" height="3" fill="#000"/>
<rect x="269" y="813" width="1" height="3" fill="#000"/>
<rect x="395" y="813" width="1" height="3" fill="#000"/>
<rect x="521" y="813" width="1" height="3" fill="#000"/>
<rect x="647" y="813" width="1" height="3" fill="#000"/>
<rect x="773" y="813" width="1" height="3" fill="#000"/>
<rect x="899" y="813" width="1" height="3" fill="#000"/>
</g>
<line x1="0" y1="735.5" x2="1137" y2="735.5" stroke="#5a5468" stroke-width="1" stroke-dasharray="6 2.4" shape-rendering="crispEdges"/>
<line x1="0" y1="788.5" x2="1137" y2="788.5" stroke="#5a5468" stroke-width="1" stroke-dasharray="6 2.4" shape-rendering="crispEdges"/>
<text class="n" x="1142.3" y="11.6">21248,00</text>
<text class="n" x="1142.3" y="44.6">21244,00</text>
<text class="n" x="1142.3" y="77.6">21240,00</text>
<text class="n" x="1142.3" y="110.6">21236,00</text>
<text class="n" x="1142.3" y="143.6">21232,00</text>
<text class="n" x="1142.3" y="176.6">21228,00</text>
<text class="n" x="1142.3" y="209.6">21224,00</text>
<text class="n" x="1142.3" y="242.6">21220,00</text>
<text class="n" x="1142.3" y="275.6">21216,00</text>
<text class="n" x="1142.3" y="308.6">21212,00</text>
<text class="n" x="1142.3" y="341.6">21208,00</text>
<text class="n" x="1142.3" y="374.6">21204,00</text>
<text class="n" x="1142.3" y="407.6">21200,00</text>
<text class="n" x="1142.3" y="440.6">21196,00</text>
<text class="n" x="1142.3" y="473.6">21192,00</text>
<text class="n" x="1142.3" y="506.6">21188,00</text>
<text class="n" x="1142.3" y="539.6">21184,00</text>
<text class="n" x="1142.3" y="572.6">21180,00</text>
<text class="n" x="1142.3" y="605.6">21176,00</text>
<text class="n" x="1142.3" y="638.6">21172,00</text>
<text class="n" x="1142.3" y="671.6">21168,00</text>
<text class="n" x="1142.3" y="704.6">21164,00</text>
<text class="n" x="1142.3" y="723">100,00</text>
<text class="n" x="1142.3" y="767">50,00</text>
<text class="n" x="143.1" y="829" text-anchor="middle">18:30</text>
<text class="n" x="269.2" y="829" text-anchor="middle">19:00</text>
<text class="n" x="395.3" y="829" text-anchor="middle">19:30</text>
<text class="n" x="521.4" y="829" text-anchor="middle">20:00</text>
<text class="n" x="647.6" y="829" text-anchor="middle">20:30</text>
<text class="n" x="773.7" y="829" text-anchor="middle">21:00</text>
<text class="n" x="899.8" y="829" text-anchor="middle">21:30</text>
<polyline fill="none" stroke="#009a00" stroke-width="1" points="0.0,796.4 6.3,789.3 17.2,766.7 26.2,770.9 31.4,776.1 35.6,783.4 41.8,797.0 54.8,798.3 62.8,787.6 71.1,760.4 83.7,734.2 87.9,732.8 96.2,734.7 105.2,728.2 111.9,735.3 119.2,754.1 129.7,779.2 138.1,786.5 144.4,778.2 150.6,767.7 159.0,745.7 168.4,730.7 173.6,738.4 179.9,754.1 189.3,760.4 192.5,770.9 197.7,776.1 201.9,776.7 209.2,788.6 214.4,796.0 219.7,796.4 227.6,799.3 232.2,793.4 237.4,793.4 240.0,792.8 240.0,793.9 248.4,783.8 252.6,783.0 256.7,784.5 263.0,780.9 271.4,781.3 274.5,782.4 281.8,762.5 290.2,743.7 298.6,728.0 303.8,725.5 309.0,730.1 315.3,738.4 323.7,746.4 336.2,747.8 340.4,744.7 348.8,742.6 353.0,746.8 357.2,758.3 367.6,760.8 373.9,758.3 378.1,760.4 382.7,754.5 386.4,759.3 390.6,767.7 399.0,777.1 407.4,788.6 415.7,789.3 424.1,797.0 429.3,799.5 434.6,797.0 440.8,790.7 449.2,767.7 458.6,757.3 462.8,758.3 466.4,755.6 470.1,764.6 474.3,770.9 480.0,774.0 480.0,775.0 486.3,781.3 494.6,789.7 503.0,794.3 513.5,794.3 517.7,798.1 523.9,785.5 532.3,762.5 540.7,741.6 545.9,734.7 553.2,736.3 561.6,739.9 567.9,740.5 576.2,733.2 582.5,733.8 591.9,729.4 597.2,732.2 601.3,745.7 609.7,762.5 616.0,783.4 622.3,799.7 630.6,799.1 634.8,801.2 643.2,799.1 647.4,789.7 653.6,766.7 662.0,739.5 668.3,725.9 672.5,721.3 680.8,723.8 687.1,722.1 693.4,722.7 701.8,729.0 710.1,736.3 716.4,747.8 720.0,756.2 720.0,758.3 726.3,766.7 732.6,770.4 738.8,770.4 745.1,764.6 752.4,756.2 757.7,758.3 765.0,758.3 770.2,750.6 773.3,750.6 776.5,757.3 781.7,761.4 786.9,770.9 793.2,778.6 798.5,772.9 802.6,759.3 810.0,746.8 815.2,731.5 819.4,731.5 826.7,739.1 833.0,740.5 841.3,741.6 847.6,744.7 852.8,753.1 857.0,752.0 861.2,755.2 866.4,768.8 872.7,778.2 879.0,783.4 885.3,797.0 890.5,799.5 898.9,799.5 906.2,793.9 914.6,780.3 922.9,755.2 933.4,738.4 940.7,732.2 944.9,739.5 950.1,751.0 962.7,768.1 965.8,767.3 970.3,769.9 975.3,767.9 979.9,769.9"/>
<polyline fill="none" stroke="#ff0000" stroke-width="1" points="0.0,783.4 6.3,790.3 12.6,789.7 20.9,780.3 30.3,772.5 35.6,772.5 46.0,784.5 58.6,795.3 63.8,795.3 71.1,786.5 83.7,760.4 92.1,744.7 100.4,735.9 107.7,732.4 113.0,732.8 119.2,737.4 125.5,745.7 138.1,770.9 146.4,778.8 150.6,778.8 156.9,772.5 167.4,753.1 173.6,743.2 177.8,741.6 184.1,742.6 190.4,747.8 200.8,764.6 215.5,783.4 230.1,794.9 235.4,796.4 240.0,796.0 240.0,795.5 252.6,789.7 269.3,782.8 277.7,781.3 290.2,767.7 302.8,744.7 311.1,732.8 316.4,731.1 321.6,732.8 332.1,742.6 340.4,746.2 350.9,745.3 361.3,748.9 376.0,757.9 384.4,758.3 394.8,762.1 403.2,769.8 413.6,781.3 424.1,790.7 434.6,795.5 442.9,795.3 449.2,789.7 459.7,772.9 469.1,762.1 474.3,761.4 480.0,764.2 480.0,764.6 490.5,776.1 503.0,787.6 513.5,792.8 518.7,794.3 525.0,793.4 536.5,779.2 546.9,756.2 555.3,743.7 563.7,737.8 572.1,738.4 584.6,737.0 596.1,732.2 603.4,735.7 611.8,746.8 622.3,770.9 632.7,790.7 641.1,799.1 647.4,798.1 655.7,787.6 664.1,768.8 674.6,741.6 684.0,726.9 691.3,723.2 699.7,724.4 710.1,728.0 720.0,739.5 720.0,740.1 730.5,756.2 740.9,767.1 751.4,766.3 763.9,760.8 774.4,755.6 780.7,755.6 789.0,759.3 799.5,768.1 805.8,768.1 812.1,762.5 822.5,744.7 830.9,738.0 837.2,737.4 845.5,740.5 860.2,746.8 876.9,767.7 889.5,786.5 902.0,797.0 909.3,797.4 918.7,789.7 931.3,764.6 939.7,747.8 945.9,740.5 950.1,740.5 958.5,747.8 970.3,761.6 979.9,768.4"/>
<polygon points="1138,346.5 1144.5,340 1195,340 1195,353 1144.5,353" fill="#f00"/>
<text x="1144.6" y="351" font-size="12" fill="#fff">21206,97</text>
<polygon points="1137.5,770.5 1143.8,764 1195,764 1195,777 1143.8,777" fill="#0a9a0a"/>
<polygon points="1138,769 1144.5,762 1195,762 1195,775 1144.5,775" fill="#f00"/>
<text x="1145" y="773" font-size="12" fill="#fff">42,71</text>
<polygon points="1138,806.2 1143.8,800 1195,800 1195,812 1143.8,812" fill="#6a6370"/>
<text x="1143.7" y="810.2" font-size="11.5" fill="#f4f2f4" textLength="24.5" lengthAdjust="spacingAndGlyphs">-3,68</text>
<text x="3.4" y="14" font-size="11" fill="#000" textLength="357" lengthAdjust="spacingAndGlyphs">* $INDU, DOW-JONES INDUSTRIALS 30 STOCK , 1, 15:30-22:05 (Dynamic)</text>
<text x="2" y="699.6" font-size="9.2" fill="#333">© eSignal, 2017</text>
<text x="3" y="722.8" font-size="10.5" fill="#c8c6cc">* Stochastic - $INDU, 1</text>
<text x="0" y="827" font-size="11" font-weight="bold" fill="#222" textLength="19.5" lengthAdjust="spacingAndGlyphs">Dyn</text>
<rect x="23" y="814.5" width="16" height="15.5" fill="#0a0a0a"/>
<g fill="none" stroke="#7d6f80" stroke-width="1.1" stroke-dasharray="1.4 .6">
<path d="M28.6 822.2v-2.6a2.1 2.1 0 0 1 4.2 0v1.6"/>
<ellipse cx="28.6" cy="824.8" rx="2" ry="2.7"/>
<circle cx="33.6" cy="824.4" r="2.6"/>
</g>
<text class="b k" x="131.1" y="120.5" textLength="97.6" lengthAdjust="spacingAndGlyphs">-0,3R / -12 Pkt</text>
<text class="n" x="155.5" y="133.6">1. Trade</text>
<text class="b r" x="124.0" y="149.6" textLength="120.6" lengthAdjust="spacingAndGlyphs">Stopp Sell 21190</text>
<text class="b r" x="126.0" y="164.8" textLength="90.4" lengthAdjust="spacingAndGlyphs">Stopp 21230</text>
<text class="b r" x="124.0" y="181.6" textLength="111.4" lengthAdjust="spacingAndGlyphs">Ausstieg 21202</text>
<text class="n" x="129.0" y="201.9">1R=-40 Punkte</text>
<text class="n" x="129.0" y="217.0">1R: 21150</text>
<text class="n" x="129.0" y="232.1">2R: 21110</text>
<text class="n" x="129.0" y="247.2">3R: 21070</text>
<text class="n" x="129.0" y="262.3">4R: 21030</text>
<text class="b k" x="283.5" y="112.2" textLength="115.2" lengthAdjust="spacingAndGlyphs">-0,692R / -18 Pkt</text>
<text class="n" x="322.5" y="129.9">3. Trade</text>
<text class="b r" x="289.0" y="149.7" textLength="120.6" lengthAdjust="spacingAndGlyphs">Stopp Sell 21189</text>
<text class="b r" x="291.9" y="165.4" textLength="90.5" lengthAdjust="spacingAndGlyphs">Stopp 21215</text>
<text class="b r" x="289.0" y="183.4" textLength="111.4" lengthAdjust="spacingAndGlyphs">Ausstieg 21207</text>
<text class="n" x="288.8" y="200.8">1R=-26 Punkte</text>
<text class="n" x="288.8" y="216.0">1R: 21163</text>
<text class="n" x="288.8" y="231.2">2R: 21137</text>
<text class="n" x="288.8" y="246.4">3R: 21111</text>
<text class="n" x="288.8" y="261.6">4R: 21085</text>
<text class="b k" x="406.4" y="115.6" textLength="115.0" lengthAdjust="spacingAndGlyphs">-0,867R / -13 Pkt</text>
<text class="n" x="434.5" y="136.6">4. Trade</text>
<text class="b g" x="413.8" y="155.3" textLength="105.3" lengthAdjust="spacingAndGlyphs">Einstieg 21207</text>
<text class="b g" x="416.3" y="176.1" textLength="90.5" lengthAdjust="spacingAndGlyphs">Stopp 21192</text>
<text class="b g" x="407.0" y="201.4" textLength="112.0" lengthAdjust="spacingAndGlyphs">Ausstieg 21194</text>
<text class="b k" x="525.2" y="119.6" textLength="115.5" lengthAdjust="spacingAndGlyphs">-0,857R / -18 Pkt</text>
<text class="n" x="542.1" y="136.6">5. Trade</text>
<text class="b r" x="533.2" y="154.7" textLength="120.2" lengthAdjust="spacingAndGlyphs">Stopp Sell 21194</text>
<text class="b r" x="533.0" y="174.4" textLength="90.4" lengthAdjust="spacingAndGlyphs">Stopp 21215</text>
<text class="b r" x="532.3" y="189.4" textLength="111.1" lengthAdjust="spacingAndGlyphs">Ausstieg 21212</text>
<text class="n" x="537.1" y="206.0">1R=-21 Punkte</text>
<text class="n" x="537.1" y="221.1">1R: 21173</text>
<text class="n" x="537.1" y="236.2">2R: 21152</text>
<text class="n" x="537.1" y="251.3">3R: 21131</text>
<text class="n" x="537.1" y="266.4">4R: 21110</text>
<text class="b k" x="657.2" y="98.7" textLength="97.4" lengthAdjust="spacingAndGlyphs">-0,15R / -3 Pkt</text>
<text class="n" x="680.4" y="113.6">6. Trade</text>
<text class="b u" x="659.7" y="129.0" textLength="105.8" lengthAdjust="spacingAndGlyphs">Einstieg 21207</text>
<text class="b u" x="659.7" y="146.4" textLength="89.7" lengthAdjust="spacingAndGlyphs">Stopp 21187</text>
<text class="b u" x="660.6" y="161.8" textLength="111.0" lengthAdjust="spacingAndGlyphs">Ausstieg 21204</text>
<text class="n" x="667.8" y="175.8">1R=20 Punkte</text>
<text class="n" x="667.8" y="190.9">1R: 21227</text>
<text class="n" x="667.8" y="205.9">2R: 21247</text>
<text class="n" x="667.8" y="221.0">3R: 21267</text>
<text class="n" x="667.8" y="236.0">4R: 21287</text>
<text class="n" x="671.5" y="249.6">21218</text>
<text class="b k" x="802.1" y="58.0" textLength="115.7" lengthAdjust="spacingAndGlyphs">-0,654R / -17 Pkt</text>
<text class="n" x="832.4" y="75.7">8. Trade</text>
<text class="b r" x="803.5" y="91.7" textLength="106.0" lengthAdjust="spacingAndGlyphs">Einstieg 21199</text>
<text class="b r" x="819.1" y="111.1" textLength="90.7" lengthAdjust="spacingAndGlyphs">Stopp 21225</text>
<text class="b r" x="799.3" y="127.0" textLength="111.3" lengthAdjust="spacingAndGlyphs">Ausstieg 21216</text>
<text class="b r" x="889.2" y="181.0" textLength="90.3" lengthAdjust="spacingAndGlyphs">Stopp 21225</text>
<text class="b r" x="886.5" y="223.0" textLength="89.4" lengthAdjust="spacingAndGlyphs">Stopp 21221</text>
<text class="b k" x="80.2" y="413.7" textLength="115.2" lengthAdjust="spacingAndGlyphs">-0,824R / -14 Pkt</text>
<text class="n" x="120.2" y="430.7">2. Trade</text>
<text class="b g" x="84.4" y="447.5" textLength="106.0" lengthAdjust="spacingAndGlyphs">Einstieg 21203</text>
<text class="b g" x="98.4" y="465.6" textLength="90.6" lengthAdjust="spacingAndGlyphs">Stopp 21186</text>
<text class="b g" x="77.3" y="480.5" textLength="111.4" lengthAdjust="spacingAndGlyphs">Ausstieg 21189</text>
<text class="n" x="108.8" y="500.9">1R=17 Punkte</text>
<text class="n" x="108.8" y="516.1">1R: 21220</text>
<text class="n" x="108.8" y="531.3">2R: 21237</text>
<text class="n" x="108.8" y="546.5">3R: 21254</text>
<text class="n" x="108.8" y="561.7">4R: 21271</text>
<text class="n" x="243.2" y="535.2">21186</text>
<text class="n" x="371.9" y="275.0">21215</text>
<text class="b g" x="289.4" y="436.6" textLength="106.0" lengthAdjust="spacingAndGlyphs">Einstieg 21203</text>
<text class="b g" x="296.1" y="517.9" textLength="90.7" lengthAdjust="spacingAndGlyphs">Stopp 21186</text>
<text class="n" x="411.6" y="440.8">21197</text>
<text class="n" x="459.4" y="456.3">21195</text>
<text class="b k" x="526.4" y="522.8" textLength="105.8" lengthAdjust="spacingAndGlyphs">-0,429R / -9 Pkt</text>
<text class="n" x="553.7" y="540.0">7. Trade</text>
<text class="b g" x="510.6" y="557.7" textLength="120.8" lengthAdjust="spacingAndGlyphs">Stopp Buy 21213</text>
<text class="b g" x="539.7" y="571.7" textLength="90.4" lengthAdjust="spacingAndGlyphs">Stopp 21192</text>
<text class="b g" x="519.0" y="587.6" textLength="111.9" lengthAdjust="spacingAndGlyphs">Ausstieg 21204</text>
<text class="b u" x="668.7" y="401.2" textLength="105.5" lengthAdjust="spacingAndGlyphs">Einstieg 21207</text>
<text class="b u" x="672.7" y="509.6" textLength="89.6" lengthAdjust="spacingAndGlyphs">Stopp 21187</text>
<text class="b r" x="955.5" y="358.8" textLength="105.4" lengthAdjust="spacingAndGlyphs">Einstieg 21199</text>
<text x="719.8" y="483.7" font-size="22.6" font-weight="bold" fill="#000" stroke="#000" stroke-width="1.3" stroke-linejoin="round" textLength="394.7" lengthAdjust="spacingAndGlyphs">Gesamt: -4,772 R /-104 Punkte</text>
</svg></body></html>
